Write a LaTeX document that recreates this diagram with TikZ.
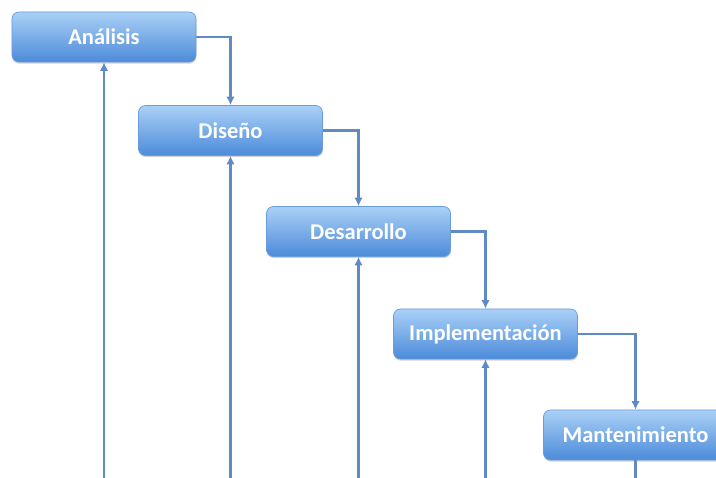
\documentclass[tikz,border=0pt]{standalone}
\usepackage{fontspec}
\setmainfont{Carlito}
\usepackage[svgnames, dvipsnames]{xcolor}
\usetikzlibrary{calc, arrows.meta, shadows}
\tikzset{>={Latex[length=6pt, width=6pt]}}
\definecolor{boxtop}{HTML}{AAD0F6}
\definecolor{boxbot}{HTML}{4C8BDA}
\definecolor{boxline}{HTML}{6A9BDD}
\definecolor{linkcol}{HTML}{5F8AC4}
\tikzset{
  phase/.style={rectangle, rounded corners=5pt, draw=boxline, line width=0.5pt,
    top color=boxtop, bottom color=boxbot,
    drop shadow={shadow xshift=0.3pt, shadow yshift=-1.2pt, opacity=0.35},
    minimum width=4.6cm, minimum height=1.25cm,
    text=white, font=\bfseries\fontsize{16}{18}\selectfont},
  link/.style={draw=linkcol, line width=1.8pt}
}

\begin{document}
\begin{tikzpicture}[x=0.025cm, y=-0.025cm]
  \useasboundingbox (0,0) rectangle (716,478);
  \clip (0,0) rectangle (716,478);

  % PHASES
  \node[phase] (ana) at (104,37) {Análisis};
  \node[phase] (dis) at (230.5,130.5) {Diseño};
  \node[phase] (des) at (358.5,231.5) {Desarrollo};
  \node[phase] (imp) at (485.5,334) {Implementación};
  \node[phase] (man) at (635.5,435) {Mantenimiento};

  % BOTTOM ENDS
  \coordinate (B1) at (ana.south |- 0,478);
  \coordinate (B2) at (dis.south |- 0,478);
  \coordinate (B3) at (des.south |- 0,478);
  \coordinate (B4) at (imp.south |- 0,478);
  \coordinate (B5) at (man.south |- 0,478);

  % DOWNWARD STEPS
  \draw[link, ->] (ana.east) -| (dis.north);
  \draw[link, ->] (dis.east) -| (des.north);
  \draw[link, ->] (des.east) -| (imp.north);
  \draw[link, ->] (imp.east) -| (man.north);

  % FEEDBACK
  \draw[link, ->] (B1) -- (ana.south);
  \draw[link, ->] (B2) -- (dis.south);
  \draw[link, ->] (B3) -- (des.south);
  \draw[link, ->] (B4) -- (imp.south);
  \draw[link] (man.south) -- (B5);
\end{tikzpicture}
\end{document}
